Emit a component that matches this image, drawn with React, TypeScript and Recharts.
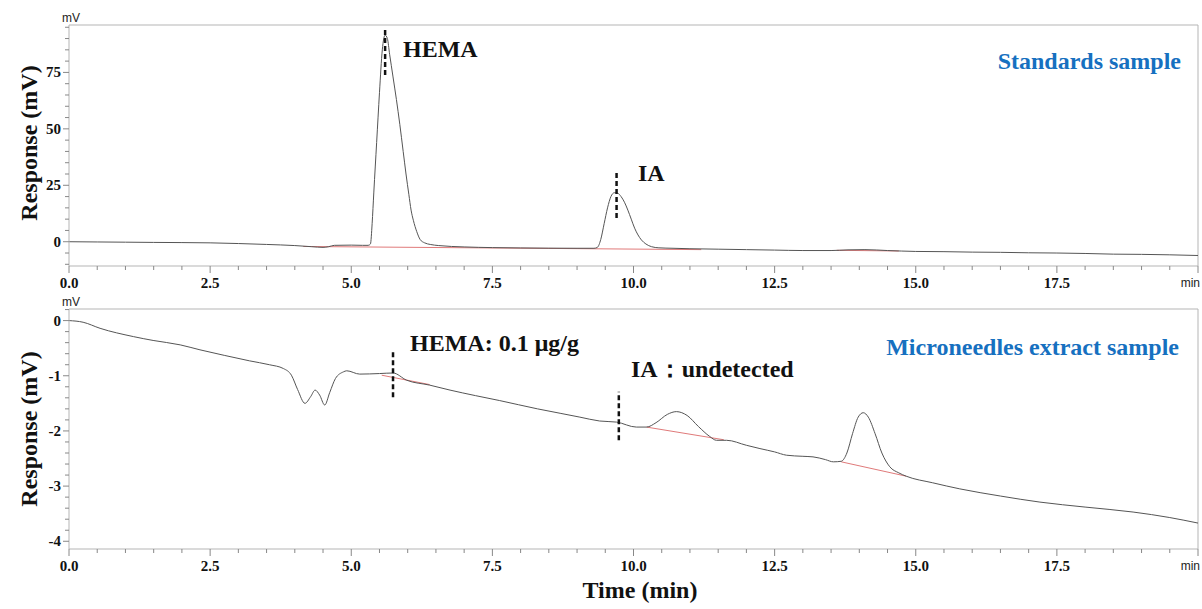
import React from 'react';
import { LineChart, Line, XAxis, YAxis, ReferenceLine } from 'recharts';

// standards sample trace (min, mV)
const topTime = [
  0, 0.5, 1, 1.5, 2, 2.5, 3, 3.5, 4, 4.3, 4.5, 4.6, 4.7, 5, 5.2,
  5.3, 5.34, 5.37, 5.4, 5.45, 5.5, 5.55, 5.6, 5.64, 5.68, 5.74, 5.8, 5.86, 5.92, 5.97, 6.02, 6.06, 6.1, 6.16, 6.22, 6.3, 6.4, 6.55,
  7, 7.5, 8, 8.5, 9, 9.3,
  9.36, 9.42, 9.48, 9.54, 9.6, 9.66, 9.72, 9.78, 9.84, 9.9, 9.96, 10.02, 10.08, 10.14, 10.22, 10.32, 10.45,
  10.7, 11, 11.5, 12, 12.5, 13, 13.5, 13.8, 14.1, 14.5, 15, 15.5, 16, 16.5, 17, 17.5, 18, 18.5, 19, 19.5, 20,
];
const topResponse = [
  0, -0.1, -0.2, -0.3, -0.38, -0.5, -0.8, -1.2, -1.7, -2.2, -2.5, -2.2, -1.6, -1.5, -1.6,
  -1.6, -1.0, 8, 22, 44, 66, 85, 91.5, 90, 83, 73, 63, 52, 40, 30, 21, 14, 9.5, 4.5, 1, -0.5, -1.2, -1.7,
  -2.3, -2.6, -2.75, -2.85, -2.9, -2.9,
  -2.5, 1, 8, 15, 20, 21.7, 21.5, 20, 17.5, 14, 10, 6, 3, 0.8, -1, -2.2, -2.7,
  -2.9, -3.1, -3.3, -3.5, -3.7, -3.9, -3.9, -3.6, -3.5, -3.9, -4.3, -4.4, -4.6, -4.7, -4.9, -5.0, -5.2, -5.5, -5.6, -5.8, -6.1,
];

// microneedles extract trace (min, mV)
const bottomTime = [
  0, 0.25, 0.55, 1.14, 1.49, 1.97, 2.32, 2.75, 3.2, 3.55, 3.8, 3.94, 4.05, 4.18, 4.28, 4.36, 4.44, 4.53, 4.62, 4.72, 4.86, 4.92,
  5.15, 5.5, 5.74, 5.98, 6.39, 6.75, 7.2, 7.63, 8.3, 8.7, 9.05, 9.4, 9.7, 10.05, 10.23, 10.4, 10.6, 10.76, 10.95, 11.15, 11.35,
  11.47, 11.65, 12, 12.24, 12.5, 12.71, 13, 13.18, 13.4, 13.54, 13.68, 13.78, 13.88, 13.98, 14.07, 14.16, 14.28, 14.4, 14.54,
  14.7, 14.83, 15.3, 15.78, 16.5, 17.2, 18, 18.85, 19.5, 20,
];
const bottomResponse = [
  0, -0.03, -0.14, -0.29, -0.36, -0.44, -0.53, -0.63, -0.73, -0.8, -0.87, -0.99, -1.25, -1.5, -1.38, -1.26, -1.35, -1.53, -1.3, -1.05, -0.93, -0.91,
  -0.97, -0.96, -0.95, -1.08, -1.17, -1.26, -1.36, -1.45, -1.6, -1.68, -1.75, -1.82, -1.84, -1.93, -1.93, -1.85, -1.7, -1.65, -1.72, -1.92, -2.1,
  -2.17, -2.17, -2.26, -2.32, -2.38, -2.44, -2.46, -2.47, -2.52, -2.56, -2.55, -2.4, -2.05, -1.75, -1.67, -1.75, -2.05, -2.4, -2.65,
  -2.76, -2.82, -2.94, -3.05, -3.18, -3.29, -3.38, -3.47, -3.57, -3.67,
];

// integration baselines (red), [start, end]
const topBaselineA = { t: [4.15, 11.2], v: [-2.1, -3.5] };
const topBaselineB = { t: [13.6, 14.7], v: [-3.8, -4.1] };
const bottomBaselineA = { t: [5.54, 6.39], v: [-0.99, -1.16] };
const bottomBaselineB = { t: [10.23, 11.6], v: [-1.93, -2.16] };
const bottomBaselineC = { t: [13.68, 14.83], v: [-2.56, -2.82] };

const xTicks = [
  0, 0.5, 1, 1.5, 2, 2.5, 3, 3.5, 4, 4.5, 5, 5.5, 6, 6.5, 7, 7.5, 8, 8.5, 9, 9.5, 10,
  10.5, 11, 11.5, 12, 12.5, 13, 13.5, 14, 14.5, 15, 15.5, 16, 16.5, 17, 17.5, 18, 18.5, 19, 19.5, 20,
];
const xMajor = [0, 2.5, 5, 7.5, 10, 12.5, 15, 17.5, 20];
const topYTicks = [95, 90, 85, 80, 75, 70, 65, 60, 55, 50, 45, 40, 35, 30, 25, 20, 15, 10, 5, 0, -5, -10];
const topYMajor = [75, 50, 25, 0];
const bottomYTicks = [0.2, 0, -0.2, -0.4, -0.6, -0.8, -1, -1.2, -1.4, -1.6, -1.8, -2, -2.2, -2.4, -2.6, -2.8, -3, -3.2, -3.4, -3.6, -3.8, -4];
const bottomYMajor = [0, -1, -2, -3, -4];

const serif = '"Liberation Serif", "DejaVu Serif", serif';
const sans = '"Liberation Sans", Arial, sans-serif';
const frame = '#b5b5b5';
const traceColor = '#555';
const redColor = '#e07a7a';
const blue = '#1670c0';

const toRows = (t: number[], v: number[]) => t.map((x, i) => ({ t: x, v: v[i] }));
const isIn = (list: number[], v: number) => list.some((m) => Math.abs(m - v) < 1e-6);

const XTick = (props: any) => {
  const { x, y, payload } = props;
  const v = payload.value;
  const major = isIn(xMajor, v);
  return (
    <g>
      <line x1={x} x2={x} y1={y} y2={y + (major ? 7 : 4)} stroke="#888" />
      {major && v < 19.9 && (
        <text x={x} y={y + 22} textAnchor="middle" fontFamily={serif} fontWeight="bold" fontSize={15} fill="#111">
          {v.toFixed(1)}
        </text>
      )}
      {v > 19.9 && (
        <text x={x + 2} y={y + 21} textAnchor="end" fontFamily={sans} fontSize={12} fill="#222">
          min
        </text>
      )}
    </g>
  );
};

const makeYTick = (majors: number[]) => (props: any) => {
  const { x, y, payload } = props;
  const v = payload.value;
  const major = isIn(majors, v);
  return (
    <g>
      <line x1={x - (major ? 6 : 4)} x2={x} y1={y} y2={y} stroke="#888" />
      {major && (
        <text x={x - 8} y={y + 5} textAnchor="end" fontFamily={serif} fontWeight="bold" fontSize={15} fill="#111">
          {Math.round(v)}
        </text>
      )}
    </g>
  );
};

const dash = { stroke: '#111', strokeWidth: 2.5, strokeDasharray: '5 3' };

export default function App() {
  const topRows = toRows(topTime, topResponse);
  const bottomRows = toRows(bottomTime, bottomResponse);
  const redLine = (b: { t: number[]; v: number[] }, key: string) => (
    <Line
      key={key}
      data={toRows(b.t, b.v)}
      dataKey="v"
      type="linear"
      stroke={redColor}
      strokeWidth={1}
      dot={false}
      isAnimationActive={false}
    />
  );

  return (
    <div style={{ position: 'absolute', left: 0, top: 0, width: 1202, height: 609, background: '#fff' }}>
      <div style={{ position: 'absolute', left: 0, top: 0 }}>
        <LineChart width={1202} height={300} margin={{ top: 25, right: 4, bottom: 4, left: 9 }}>
          <XAxis
            dataKey="t"
            type="number"
            domain={[0, 20]}
            ticks={xTicks}
            interval={0}
            height={30}
            tickSize={0}
            tickMargin={0}
            tickLine={false}
            tick={<XTick />}
            axisLine={{ stroke: frame }}
            allowDataOverflow
          />
          <YAxis
            type="number"
            domain={[-10.75, 96]}
            ticks={topYTicks}
            interval={0}
            width={60}
            tickSize={0}
            tickMargin={0}
            tickLine={false}
            tick={makeYTick(topYMajor)}
            axisLine={{ stroke: frame }}
            allowDataOverflow
          />
          <ReferenceLine y={96} stroke={frame} />
          <ReferenceLine x={20} stroke={frame} />
          {redLine(topBaselineA, 'ta')}
          {redLine(topBaselineB, 'tb')}
          <Line data={topRows} dataKey="v" type="monotone" stroke={traceColor} strokeWidth={1} dot={false} isAnimationActive={false} />
          <ReferenceLine segment={[{ x: 5.6, y: 73.8 }, { x: 5.6, y: 94.6 }]} {...dash} />
          <ReferenceLine segment={[{ x: 9.7, y: 10.5 }, { x: 9.7, y: 31.7 }]} {...dash} />
        </LineChart>
      </div>
      <div style={{ position: 'absolute', left: 0, top: 290 }}>
        <LineChart width={1202} height={319} margin={{ top: 19, right: 4, bottom: 30, left: 9 }}>
          <XAxis
            dataKey="t"
            type="number"
            domain={[0, 20]}
            ticks={xTicks}
            interval={0}
            height={30}
            tickSize={0}
            tickMargin={0}
            tickLine={false}
            tick={<XTick />}
            axisLine={{ stroke: frame }}
            allowDataOverflow
          />
          <YAxis
            type="number"
            domain={[-4.14, 0.21]}
            ticks={bottomYTicks}
            interval={0}
            width={60}
            tickSize={0}
            tickMargin={0}
            tickLine={false}
            tick={makeYTick(bottomYMajor)}
            axisLine={{ stroke: frame }}
            allowDataOverflow
          />
          <ReferenceLine y={0.21} stroke={frame} />
          <ReferenceLine x={20} stroke={frame} />
          {redLine(bottomBaselineA, 'ba')}
          {redLine(bottomBaselineB, 'bb')}
          {redLine(bottomBaselineC, 'bc')}
          <Line data={bottomRows} dataKey="v" type="monotone" stroke={traceColor} strokeWidth={1} dot={false} isAnimationActive={false} />
          <ReferenceLine segment={[{ x: 5.74, y: -1.39 }, { x: 5.74, y: -0.53 }]} {...dash} />
          <ReferenceLine segment={[{ x: 9.74, y: -2.17 }, { x: 9.74, y: -1.29 }]} {...dash} />
        </LineChart>
      </div>
      <svg width={1202} height={609} style={{ position: 'absolute', left: 0, top: 0, pointerEvents: 'none' }}>
        <text x={62} y={22} fontFamily={sans} fontSize={12} fill="#222">mV</text>
        <text x={62} y={306} fontFamily={sans} fontSize={12} fill="#222">mV</text>
        <g fontFamily={serif} fontWeight="bold" fontSize={24} fill="#111">
          <text transform="translate(37,143) rotate(-90)" textAnchor="middle">Response (mV)</text>
          <text transform="translate(37,429) rotate(-90)" textAnchor="middle">Response (mV)</text>
          <text x={403} y={57}>HEMA</text>
          <text x={638} y={181}>IA</text>
          <text x={410} y={351}>HEMA: 0.1 μg/g</text>
          <text x={631} y={377}>IA：undetected</text>
          <text x={640} y={598} textAnchor="middle">Time (min)</text>
          <text x={1181} y={69} textAnchor="end" fill={blue}>Standards sample</text>
          <text x={1179} y={355} textAnchor="end" fill={blue}>Microneedles extract sample</text>
        </g>
      </svg>
    </div>
  );
}
